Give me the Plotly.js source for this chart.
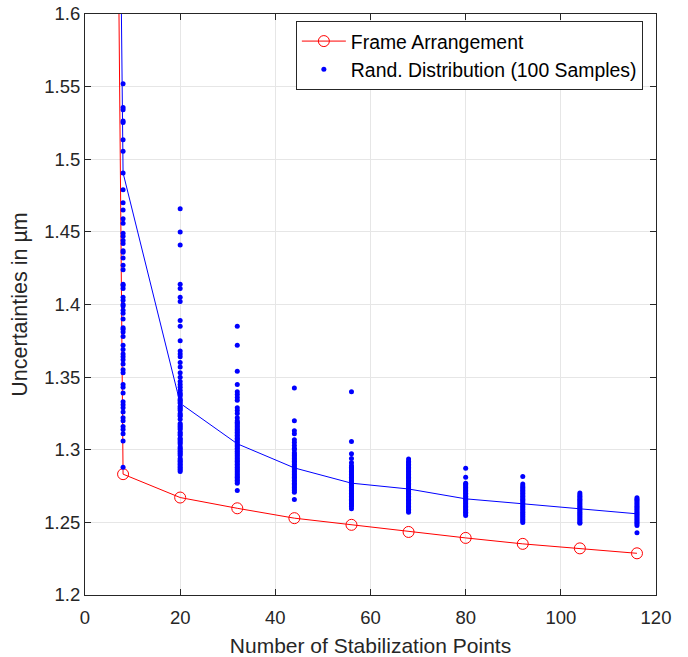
<!DOCTYPE html>
<html>
<head>
<meta charset="utf-8">
<script src="https://cdn.plot.ly/plotly-3.0.1.min.js"></script>
<style>html,body{margin:0;padding:0;background:#fff;}#chart{width:688px;height:657px;}</style>
</head>
<body>
<div id="chart"></div>
<script>
// Stabilization point counts
const points = [4, 8, 20, 32, 44, 56, 68, 80, 92, 104, 116];
// Frame arrangement uncertainty (µm)
const frameArrangement = [2.76, 1.2832, 1.2671, 1.2597, 1.2529, 1.2483, 1.2434, 1.2393, 1.2352, 1.2321, 1.2287];
// Mean of the random distribution (µm)
const randMean = [2.75, 1.4906, 1.332, 1.3041, 1.2875, 1.277, 1.273, 1.2662, 1.2628, 1.2593, 1.2559];

// Random distribution samples per point count
const s8 = [1.552,1.5356,1.534,1.5264,1.5253,1.5135,1.5055,1.4906,1.479,1.470,1.465,1.459,1.456,1.449,1.447,1.444,1.442,1.437,1.436,1.432,1.427,1.424,1.414,1.413,1.411,1.405,1.403,1.400,1.399,1.396,1.394,1.390,1.384,1.383,1.381,1.378,1.372,1.369,1.366,1.364,1.362,1.359,1.355,1.353,1.345,1.343,1.339,1.333,1.331,1.329,1.326,1.322,1.320,1.316,1.314,1.311,1.306,1.288];
const s20 = [1.466,1.450,1.441,1.414,1.411,1.405,1.402,1.389,1.385,1.375,1.368,1.366,1.364,1.360,1.357,1.353,1.350,1.347,1.345,1.343,1.341,1.339,1.338,1.337,1.335,1.334,1.333,1.332,1.330,1.329,1.328,1.327,1.325,1.324,1.323,1.321,1.318,1.317,1.316,1.315,1.314,1.312,1.311,1.310,1.308,1.307,1.306,1.305,1.304,1.302,1.301,1.300,1.299,1.298,1.297,1.296,1.294,1.293,1.292,1.291,1.290,1.289,1.288,1.287,1.286,1.285];
const s32 = [1.385,1.372,1.354,1.345,1.340,1.338,1.336,1.334,1.329,1.327,1.325,1.322,1.320,1.319,1.318,1.317,1.316,1.315,1.314,1.313,1.312,1.311,1.310,1.309,1.308,1.307,1.306,1.305,1.304,1.303,1.302,1.301,1.300,1.299,1.298,1.297,1.296,1.295,1.294,1.293,1.292,1.291,1.290,1.289,1.288,1.287,1.286,1.285,1.284,1.283,1.282,1.281,1.280,1.279,1.278,1.277,1.272];
const s44 = [1.3425,1.320,1.313,1.311,1.3068,1.305,1.303,1.301,1.300,1.298,1.297,1.296,1.295,1.294,1.293,1.292,1.291,1.290,1.289,1.288,1.287,1.286,1.285,1.284,1.283,1.282,1.281,1.280,1.279,1.278,1.277,1.276,1.275,1.274,1.273,1.272,1.2707,1.2657];
const s56 = [1.340,1.3057,1.2972,1.294,1.291,1.289,1.288,1.287,1.286,1.285,1.284,1.283,1.282,1.281,1.280,1.279,1.278,1.277,1.276,1.275,1.274,1.273,1.272,1.271,1.270,1.269,1.268,1.267,1.266,1.265,1.264,1.263,1.262,1.261,1.2593];
const s68 = [1.2936,1.292,1.291,1.290,1.289,1.288,1.287,1.286,1.285,1.284,1.283,1.282,1.281,1.280,1.279,1.278,1.277,1.276,1.275,1.274,1.273,1.272,1.271,1.270,1.269,1.268,1.267,1.266,1.265,1.264,1.263,1.262,1.261,1.260,1.259,1.258,1.257];
const s80 = [1.2873,1.2811,1.277,1.276,1.275,1.274,1.273,1.272,1.271,1.270,1.269,1.268,1.267,1.266,1.265,1.264,1.263,1.262,1.261,1.260,1.259,1.258,1.257,1.256,1.2548];
const s92 = [1.2816,1.2765,1.275,1.274,1.273,1.272,1.271,1.270,1.269,1.268,1.267,1.266,1.265,1.264,1.263,1.262,1.261,1.260,1.259,1.258,1.257,1.256,1.255,1.254,1.253,1.252,1.251,1.250];
const s104 = [1.2703,1.269,1.268,1.267,1.266,1.265,1.264,1.263,1.262,1.261,1.260,1.259,1.258,1.257,1.256,1.255,1.254,1.253,1.252,1.251,1.250,1.2494];
const s116 = [1.2669,1.266,1.265,1.264,1.263,1.262,1.261,1.260,1.259,1.258,1.257,1.256,1.255,1.254,1.253,1.252,1.251,1.250,1.249,1.2478,1.2428];

const sampleCols = [8, 20, 32, 44, 56, 68, 80, 92, 104, 116];
const sampleSets = [s8, s20, s32, s44, s56, s68, s80, s92, s104, s116];

const xTickVals = [0, 20, 40, 60, 80, 100, 120];
const yTickVals = [1.2, 1.25, 1.3, 1.35, 1.4, 1.45, 1.5, 1.55, 1.6];
const yTickText = ['1.2', '1.25', '1.3', '1.35', '1.4', '1.45', '1.5', '1.55', '1.6'];

const sx = [], sy = [];
sampleSets.forEach((arr, i) => arr.forEach(v => { sx.push(sampleCols[i]); sy.push(v); }));

const FONT = '"Liberation Sans", Arial, Helvetica, sans-serif';
const INK = '#262626';

const traces = [
  {
    x: points, y: frameArrangement, name: 'Frame Arrangement',
    type: 'scatter', mode: 'lines+markers',
    line: {color: '#ff0000', width: 1},
    marker: {symbol: 'circle-open', size: 11, color: '#ff0000', line: {width: 1, color: '#ff0000'}},
    cliponaxis: true
  },
  {
    x: sx, y: sy, name: 'Rand. Distribution (100 Samples)',
    type: 'scatter', mode: 'markers',
    marker: {symbol: 'circle', size: 5, color: '#0000ff'},
    cliponaxis: true
  },
  {
    x: points, y: randMean, name: 'Mean', showlegend: false,
    type: 'scatter', mode: 'lines',
    line: {color: '#0000ff', width: 1},
    cliponaxis: true
  }
];

const axisCommon = {
  showline: true, linecolor: INK, linewidth: 1, mirror: 'ticks',
  ticks: 'inside', ticklen: 6, tickwidth: 1, tickcolor: INK,
  showgrid: true, gridcolor: '#e6e6e6', gridwidth: 1, zeroline: false,
  tickfont: {family: FONT, size: 18.5, color: INK}
};

const layout = {
  width: 688, height: 657,
  margin: {l: 85, r: 32, t: 14, b: 62},
  paper_bgcolor: '#ffffff', plot_bgcolor: '#ffffff',
  font: {family: FONT, color: INK},
  showlegend: true,
  xaxis: Object.assign({}, axisCommon, {
    range: [0, 120], tickmode: 'array', tickvals: xTickVals,
    ticklabelstandoff: 6,
    title: {text: 'Number of Stabilization Points', font: {family: FONT, size: 21, color: INK}, standoff: 11}
  }),
  yaxis: Object.assign({}, axisCommon, {
    range: [1.2, 1.6], tickmode: 'array', tickvals: yTickVals, ticktext: yTickText,
    title: {text: 'Uncertainties in µm', font: {family: FONT, size: 21.5, color: INK}, standoff: 10}
  }),
  legend: {
    x: 0.977, xanchor: 'right', y: 0.988, yanchor: 'top',
    bgcolor: '#ffffff', bordercolor: INK, borderwidth: 1,
    font: {family: FONT, size: 19.4, color: '#000000'},
    itemwidth: 44
  }
};

Plotly.newPlot('chart', traces, layout, {displayModeBar: false, staticPlot: true});
</script>
</body>
</html>
